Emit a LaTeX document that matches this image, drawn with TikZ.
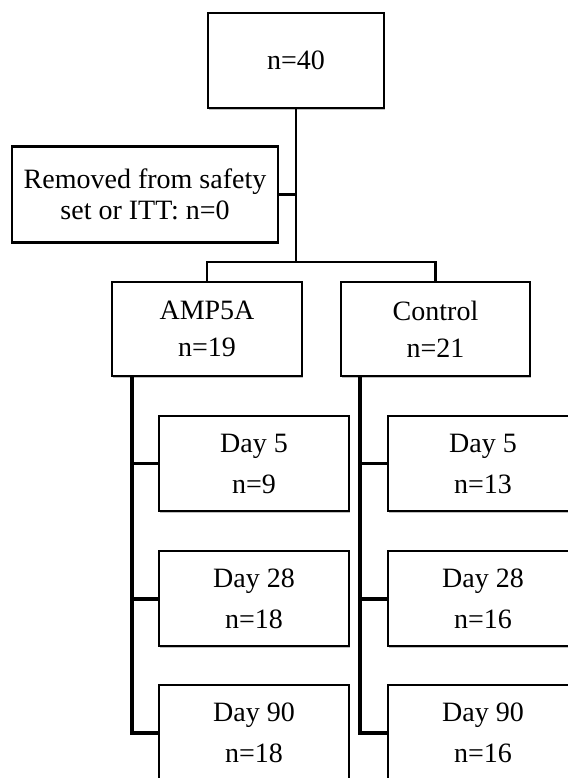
\documentclass[tikz,border=0pt]{standalone}
\usepackage{fontspec}
\setmainfont{Liberation Serif}
\usetikzlibrary{shadows}
\begin{document}
\begin{tikzpicture}[x=1pt,y=-1pt,
  box/.style={draw=black, line width=2.4pt, fill=white, align=center, inner sep=0pt,
    drop shadow={shadow xshift=1.2pt, shadow yshift=-1.8pt, fill=black, opacity=0.25}},
  thinline/.style={draw=black, line width=2.4pt},
  thickline/.style={draw=black, line width=4pt}]
\useasboundingbox (0,0) rectangle (567,778);
\node[box, minimum width=176pt, minimum height=95pt, font=\fontsize{28}{31}\selectfont] (top) at (296,60.5) {n=40};
\node[box, minimum width=266pt, minimum height=96pt, font=\fontsize{28}{31}\selectfont] (rem) at (145,194.5) {Removed from safety\\set or ITT: n=0};
\node[box, minimum width=190pt, minimum height=94pt, font=\fontsize{28}{37}\selectfont] (amp) at (207,329) {AMP5A\\n=19};
\node[box, minimum width=189pt, minimum height=94pt, font=\fontsize{28}{37}\selectfont] (ctl) at (435.5,329) {Control\\n=21};
\node[box, minimum width=190pt, minimum height=95pt, font=\fontsize{28}{41}\selectfont] (L5) at (254,463.5) {Day 5\\n=9};
\node[box, minimum width=190pt, minimum height=95pt, font=\fontsize{28}{41}\selectfont] (L28) at (254,598.5) {Day 28\\n=18};
\node[box, minimum width=190pt, minimum height=95pt, font=\fontsize{28}{41}\selectfont] (L90) at (254,732.5) {Day 90\\n=18};
\node[box, minimum width=190pt, minimum height=95pt, font=\fontsize{28}{41}\selectfont] (R5) at (483,463.5) {Day 5\\n=13};
\node[box, minimum width=190pt, minimum height=95pt, font=\fontsize{28}{41}\selectfont] (R28) at (483,598.5) {Day 28\\n=16};
\node[box, minimum width=190pt, minimum height=95pt, font=\fontsize{28}{41}\selectfont] (R90) at (483,732.5) {Day 90\\n=16};
\coordinate (split) at (296,262);
\coordinate (lb) at (132,376);
\coordinate (rb) at (360,376);
\begin{scope}[on background layer/.style={}]
\end{scope}
\draw[thinline] (top.south) -- (split);
\draw[thinline] (rem.east) -- (rem.east -| split);
\draw[thinline] (amp.north) |- (split) -| (ctl.north);
\draw[thickline] (lb) |- (L90.west);
\draw[thinline] (lb |- L5.west) -- (L5.west);
\draw[thickline] (lb |- L28.west) -- (L28.west);
\draw[thickline] (rb) |- (R90.west);
\draw[thinline] (rb |- R5.west) -- (R5.west);
\draw[thickline] (rb |- R28.west) -- (R28.west);
\end{tikzpicture}
\end{document}
